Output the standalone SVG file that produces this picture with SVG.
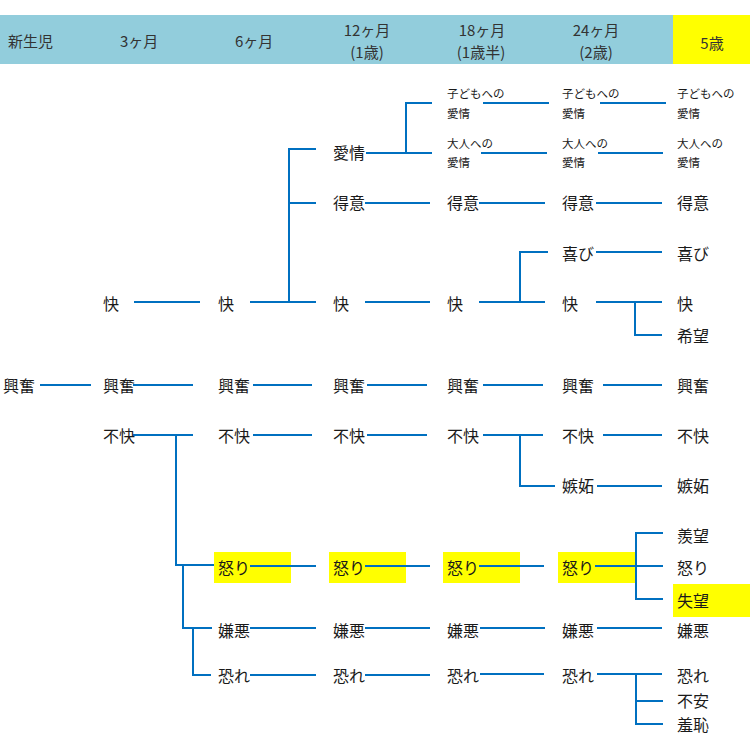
<svg xmlns="http://www.w3.org/2000/svg" width="750" height="750" viewBox="0 0 750 750">
<style>
text{font-family:"Noto Sans CJK JP","Noto Sans",sans-serif;fill:#1a1a1a;dominant-baseline:central}
.h{font-size:15px;fill:#333}
.hc{text-anchor:middle}
.n{font-size:16px}
.s{font-size:11.5px}
.hl{fill:#ffff00}
#connectors path{fill:none;stroke:#0070c0;stroke-width:2}
</style>
<rect width="750" height="750" fill="#fff"/>
<g id="header">
<rect x="0" y="15" width="750" height="49" fill="#92cddc"/>
<rect x="673" y="15" width="77" height="49" fill="#ffff00"/>
<text class="h" x="8" y="40">新生児</text>
<text class="h" x="120" y="40">3ヶ月</text>
<text class="h" x="235" y="40">6ヶ月</text>
<text class="h hc" x="367" y="29.5">12ヶ月</text>
<text class="h hc" x="367" y="51">(1歳)</text>
<text class="h hc" x="482" y="29.5">18ヶ月</text>
<text class="h hc" x="481" y="51">(1歳半)</text>
<text class="h hc" x="596" y="29.5">24ヶ月</text>
<text class="h hc" x="596" y="51">(2歳)</text>
<text class="h hc" x="712" y="42">5歳</text>
</g>
<g id="highlights">
<rect class="hl" x="214" y="552" width="77" height="31"/>
<rect class="hl" x="329" y="552" width="77" height="31"/>
<rect class="hl" x="443" y="552" width="77" height="31"/>
<rect class="hl" x="558" y="552" width="78" height="31"/>
<rect class="hl" x="673" y="584" width="77" height="33"/>
</g>
<g id="connectors">
<path d="M134 302H200"/>
<path d="M250 302H316"/>
<path d="M289 302V149H316"/>
<path d="M289 203H316"/>
<path d="M365 302H430"/>
<path d="M479 302H545"/>
<path d="M520 302V252H548"/>
<path d="M596 302H662"/>
<path d="M635 302V335H662"/>
<path d="M596 252H662"/>
<path d="M366 153H432"/>
<path d="M406 153V103H432"/>
<path d="M483 103H549"/>
<path d="M600 103H666"/>
<path d="M481 153H547"/>
<path d="M598 153H663"/>
<path d="M365 203H430"/>
<path d="M479 203H545"/>
<path d="M596 203H662"/>
<path d="M40 385H91"/>
<path d="M133 385H193"/>
<path d="M253 385H312"/>
<path d="M367 385H427"/>
<path d="M483 385H543"/>
<path d="M603 385H662"/>
<path d="M133 435H193"/>
<path d="M176 435V565H214"/>
<path d="M253 435H312"/>
<path d="M367 435H427"/>
<path d="M483 435H543"/>
<path d="M520 435V486H555"/>
<path d="M603 435H662"/>
<path d="M597 486H662"/>
<path d="M183 565V628H212"/>
<path d="M193 628V675H211"/>
<path d="M250 566H316"/>
<path d="M365 566H430"/>
<path d="M479 566H544"/>
<path d="M595 566H663"/>
<path d="M663 533H636V599H663"/>
<path d="M250 628H316"/>
<path d="M365 628H430"/>
<path d="M480 628H545"/>
<path d="M597 628H662"/>
<path d="M250 675H316"/>
<path d="M365 675H430"/>
<path d="M480 674H544"/>
<path d="M597 674H662"/>
<path d="M636 674V724H663"/>
<path d="M636 701H663"/>
</g>
<g id="n-koufun0"><text class="n" x="3" y="385">興奮</text></g>
<g id="n-kai1"><text class="n" x="103" y="302.5">快</text></g>
<g id="n-koufun1"><text class="n" x="103" y="385">興奮</text></g>
<g id="n-fukai1"><text class="n" x="103" y="435">不快</text></g>
<g id="n-kai2"><text class="n" x="218" y="302.5">快</text></g>
<g id="n-koufun2"><text class="n" x="218" y="385">興奮</text></g>
<g id="n-fukai2"><text class="n" x="218" y="435">不快</text></g>
<g id="n-ikari2"><text class="n" x="218" y="567">怒り</text></g>
<g id="n-keno2"><text class="n" x="218" y="629.5">嫌悪</text></g>
<g id="n-osore2"><text class="n" x="218" y="674.5">恐れ</text></g>
<g id="n-aijo3"><text class="n" x="333" y="152">愛情</text></g>
<g id="n-tokui3"><text class="n" x="333" y="202">得意</text></g>
<g id="n-kai3"><text class="n" x="333" y="302.5">快</text></g>
<g id="n-koufun3"><text class="n" x="333" y="385">興奮</text></g>
<g id="n-fukai3"><text class="n" x="333" y="435">不快</text></g>
<g id="n-ikari3"><text class="n" x="333" y="567">怒り</text></g>
<g id="n-keno3"><text class="n" x="333" y="629.5">嫌悪</text></g>
<g id="n-osore3"><text class="n" x="333" y="674.5">恐れ</text></g>
<g id="n-kodomo4"><text class="s" x="447" y="93">子どもへの</text><text class="s" x="447" y="112.5">愛情</text></g>
<g id="n-otona4"><text class="s" x="447" y="143">大人への</text><text class="s" x="447" y="162">愛情</text></g>
<g id="n-tokui4"><text class="n" x="447" y="202">得意</text></g>
<g id="n-kai4"><text class="n" x="447" y="302.5">快</text></g>
<g id="n-koufun4"><text class="n" x="447" y="385">興奮</text></g>
<g id="n-fukai4"><text class="n" x="447" y="435">不快</text></g>
<g id="n-ikari4"><text class="n" x="447" y="567">怒り</text></g>
<g id="n-keno4"><text class="n" x="447" y="629.5">嫌悪</text></g>
<g id="n-osore4"><text class="n" x="447" y="674.5">恐れ</text></g>
<g id="n-kodomo5"><text class="s" x="562" y="93">子どもへの</text><text class="s" x="562" y="112.5">愛情</text></g>
<g id="n-otona5"><text class="s" x="562" y="143">大人への</text><text class="s" x="562" y="162">愛情</text></g>
<g id="n-tokui5"><text class="n" x="562" y="202">得意</text></g>
<g id="n-yorokobi5"><text class="n" x="562" y="252.5">喜び</text></g>
<g id="n-kai5"><text class="n" x="562" y="302.5">快</text></g>
<g id="n-koufun5"><text class="n" x="562" y="385">興奮</text></g>
<g id="n-fukai5"><text class="n" x="562" y="435">不快</text></g>
<g id="n-shitto5"><text class="n" x="562" y="485">嫉妬</text></g>
<g id="n-ikari5"><text class="n" x="562" y="567">怒り</text></g>
<g id="n-keno5"><text class="n" x="562" y="629.5">嫌悪</text></g>
<g id="n-osore5"><text class="n" x="562" y="674.5">恐れ</text></g>
<g id="n-kodomo6"><text class="s" x="677" y="93">子どもへの</text><text class="s" x="677" y="112.5">愛情</text></g>
<g id="n-otona6"><text class="s" x="677" y="143">大人への</text><text class="s" x="677" y="162">愛情</text></g>
<g id="n-tokui6"><text class="n" x="677" y="202">得意</text></g>
<g id="n-yorokobi6"><text class="n" x="677" y="252.5">喜び</text></g>
<g id="n-kai6"><text class="n" x="677" y="302.5">快</text></g>
<g id="n-kibou6"><text class="n" x="677" y="335">希望</text></g>
<g id="n-koufun6"><text class="n" x="677" y="385">興奮</text></g>
<g id="n-fukai6"><text class="n" x="677" y="435">不快</text></g>
<g id="n-shitto6"><text class="n" x="677" y="485">嫉妬</text></g>
<g id="n-senbou6"><text class="n" x="677" y="535">羨望</text></g>
<g id="n-ikari6"><text class="n" x="677" y="567">怒り</text></g>
<g id="n-shitsubou6"><text class="n" x="677" y="600">失望</text></g>
<g id="n-keno6"><text class="n" x="677" y="630">嫌悪</text></g>
<g id="n-osore6"><text class="n" x="677" y="674.5">恐れ</text></g>
<g id="n-fuan6"><text class="n" x="677" y="700">不安</text></g>
<g id="n-shuuchi6"><text class="n" x="677" y="723.5">羞恥</text></g>
</svg>
